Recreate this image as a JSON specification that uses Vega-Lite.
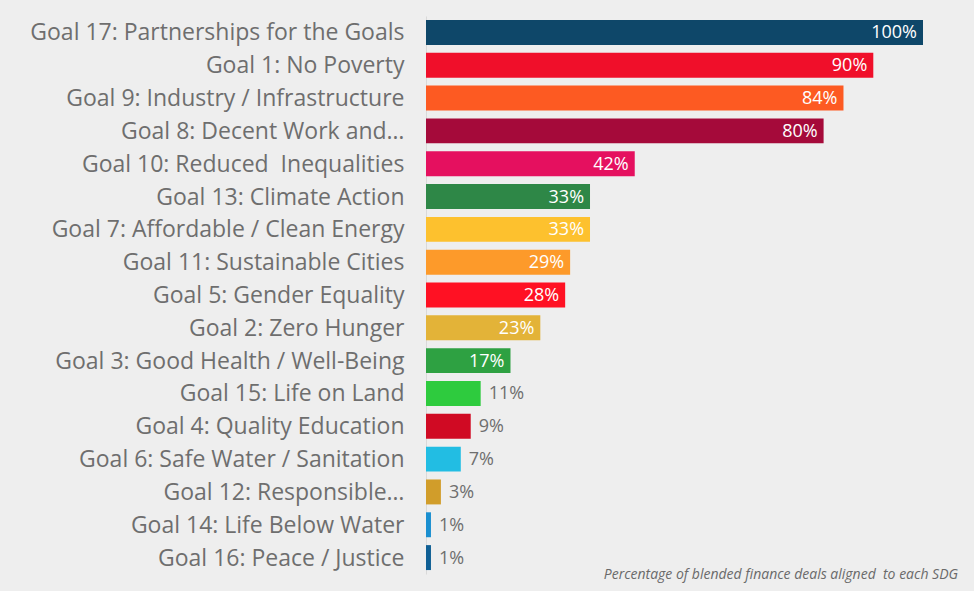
{
  "$schema": "https://vega.github.io/schema/vega-lite/v6.json",
  "autosize": {"type": "none"},
  "width": 497,
  "height": 558,
  "padding": {"left": 426, "top": 16, "right": 51, "bottom": 17},
  "background": "#eeeeee",
  "config": {"view": {"stroke": null}},
  "title": {
    "text": "Percentage of blended finance deals aligned \u00a0to each SDG",
    "orient": "bottom",
    "anchor": "end",
    "frame": "group",
    "offset": -6,
    "dx": 35,
    "font": "Open Sans",
    "fontStyle": "italic",
    "fontWeight": "normal",
    "fontSize": 14,
    "color": "#6a6a6a"
  },
  "data": {
    "values": [
      {"goal": "Goal 17: Partnerships for the Goals", "value": 100, "color": "#0e4769"},
      {"goal": "Goal 1: No Poverty", "value": 90, "color": "#f00f2a"},
      {"goal": "Goal 9: Industry / Infrastructure", "value": 84, "color": "#fd5a22"},
      {"goal": "Goal 8: Decent Work and…", "value": 80, "color": "#a50a3a"},
      {"goal": "Goal 10: Reduced \u00a0Inequalities", "value": 42, "color": "#e5105f"},
      {"goal": "Goal 13: Climate Action", "value": 33, "color": "#2e8747"},
      {"goal": "Goal 7: Affordable / Clean Energy", "value": 33, "color": "#fdc12e"},
      {"goal": "Goal 11: Sustainable Cities", "value": 29, "color": "#fd9a2a"},
      {"goal": "Goal 5: Gender Equality", "value": 28, "color": "#ff1123"},
      {"goal": "Goal 2: Zero Hunger", "value": 23, "color": "#e3b338"},
      {"goal": "Goal 3: Good Health / Well-Being", "value": 17, "color": "#2ea142"},
      {"goal": "Goal 15: Life on Land", "value": 11, "color": "#2ecb3e"},
      {"goal": "Goal 4: Quality Education", "value": 9, "color": "#d00a23"},
      {"goal": "Goal 6: Safe Water / Sanitation", "value": 7, "color": "#22bde3"},
      {"goal": "Goal 12: Responsible…", "value": 3, "color": "#d19d2a"},
      {"goal": "Goal 14: Life Below Water", "value": 1, "color": "#1a8fd0"},
      {"goal": "Goal 16: Peace / Justice", "value": 1, "color": "#0f5f94"}
    ]
  },
  "transform": [{"calculate": "datum.value + '%'", "as": "label"}],
  "encoding": {
    "y": {
      "field": "goal",
      "type": "nominal",
      "sort": null,
      "scale": {"paddingInner": 0.24, "paddingOuter": 0.12},
      "axis": {
        "title": null,
        "ticks": false,
        "domain": true,
        "domainColor": "#d9d9d9",
        "domainWidth": 1,
        "labelFont": "Open Sans",
        "labelFontSize": 23,
        "labelColor": "#6e6e6e",
        "labelPadding": 22,
        "labelOffset": 1,
        "labelLimit": 420
      }
    },
    "x": {
      "field": "value",
      "type": "quantitative",
      "scale": {"domain": [0, 100], "nice": false},
      "axis": null
    }
  },
  "layer": [
    {
      "mark": {"type": "bar"},
      "encoding": {
        "color": {"field": "color", "type": "nominal", "scale": null, "legend": null}
      }
    },
    {
      "transform": [{"filter": "datum.value >= 15"}],
      "mark": {"type": "text", "align": "right", "baseline": "middle", "dx": -6, "dy": 1, "font": "Open Sans", "fontSize": 18, "color": "#ffffff"},
      "encoding": {"text": {"field": "label", "type": "nominal"}}
    },
    {
      "transform": [{"filter": "datum.value < 15"}],
      "mark": {"type": "text", "align": "left", "baseline": "middle", "dx": 8, "dy": 1, "font": "Open Sans", "fontSize": 18, "color": "#6e6e6e"},
      "encoding": {"text": {"field": "label", "type": "nominal"}}
    }
  ]
}
